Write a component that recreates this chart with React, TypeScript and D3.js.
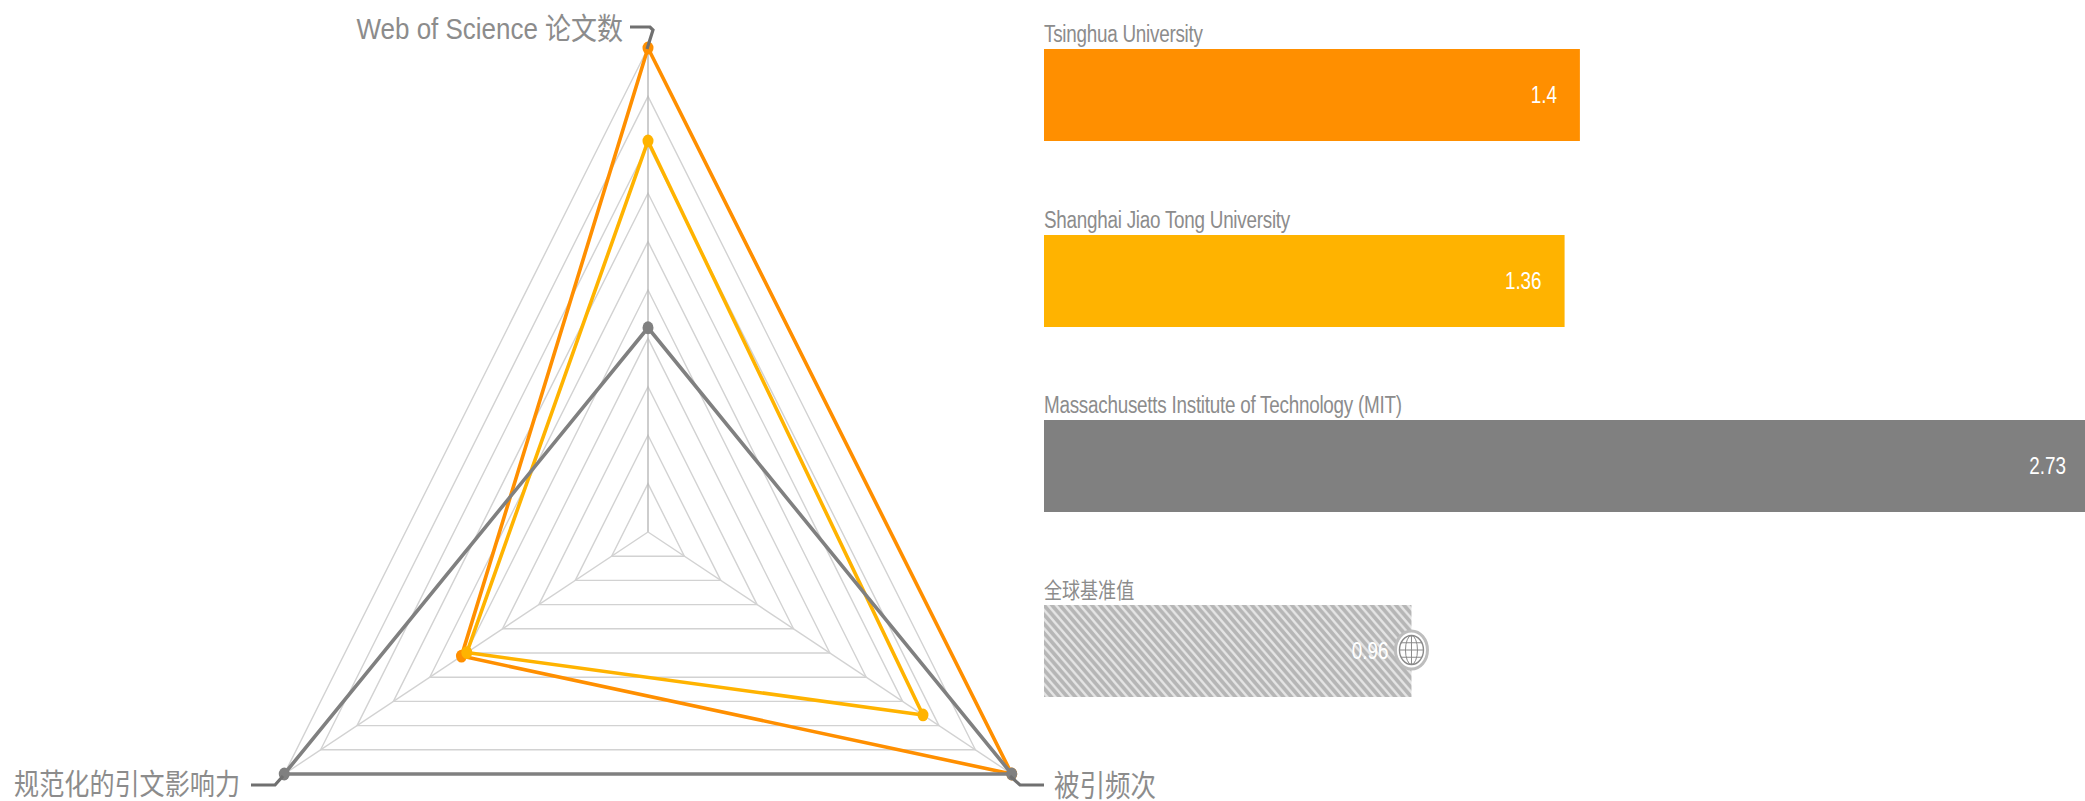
import React from "react";
import * as d3 from "d3";

const WIDTH = 2085;
const HEIGHT = 801;

// Radar axes, clockwise from the top
const axisLabels = ["Web of Science 论文数", "被引频次", "规范化的引文影响力"];
const ringLevels = [0.1, 0.2, 0.3, 0.4, 0.5, 0.6, 0.7, 0.8, 0.9, 1];

const institutions = ["Tsinghua University", "Shanghai Jiao Tong University", "Massachusetts Institute of Technology (MIT)"];
const baselineLabel = "全球基准值";
const colors = ["#ff8f00", "#ffb300", "#808080"];

// Share of the largest institution on the paper and citation axes
const paperShare = [1, 0.808, 0.422];
const citationShare = [1, 0.756, 1];
// Category normalized citation impact
const impactValues = [1.4, 1.36, 2.73];
const baselineImpact = 0.96;

const rScale = d3.scaleLinear().domain([0, 1]).range([0, 1]);
const impactShare = d3.scaleLinear().domain([0, d3.max(impactValues) as number]).range([0, 1]);
const barX = d3.scaleLinear().domain([0, d3.max(impactValues) as number]).range([1044, 2089]);

const barTops = [49, 235, 420, 605];
const BAR_H = 92;

// The radar is taller than an equilateral triangle: independent radii on each direction
const CX = 648;
const CY = 532;
const RX = 420;
const RY = 484;
const angles = [0, (2 * Math.PI) / 3, (4 * Math.PI) / 3];

function polar(axis: number, share: number): [number, number] {
  const r = rScale(share);
  return [CX + Math.sin(angles[axis]) * RX * r, CY - Math.cos(angles[axis]) * RY * r];
}

const closedLine = d3.line().curve(d3.curveLinearClosed);
const plainLine = d3.line();

const LABEL_FONT = "'Liberation Sans', 'Noto Sans CJK SC', sans-serif";

// Condensed text: glyphs are drawn narrow and tall
function Label(props: { x: number; y: number; size: number; fill: string; anchor?: string; text: string; sx?: number; spacing?: number }) {
  const { x, y, size, fill, anchor, text, sx, spacing } = props;
  return (
    <text
      transform={`translate(${x},${y}) scale(${sx ?? 0.866},1)`}
      fontFamily={LABEL_FONT}
      fontSize={size}
      fill={fill}
      textAnchor={anchor ?? "start"}
      letterSpacing={spacing ?? 0}
    >
      {text}
    </text>
  );
}

function GlobeIcon({ x, y }: { x: number; y: number }) {
  const rx = 12;
  const ry = 14.5;
  return (
    <g transform={`translate(${x},${y})`} fill="none" stroke="#8a8a8a" strokeWidth={1}>
      <ellipse rx={16} ry={19} fill="#ffffff" stroke="#bdbdbd" strokeWidth={3} />
      <ellipse rx={rx} ry={ry} strokeWidth={1.4} />
      <ellipse rx={rx * 0.5} ry={ry} />
      <line x1={0} x2={0} y1={-ry} y2={ry} />
      <line x1={-rx} x2={rx} y1={0} y2={0} />
      <line x1={-rx * 0.87} x2={rx * 0.87} y1={-ry * 0.5} y2={-ry * 0.5} />
      <line x1={-rx * 0.87} x2={rx * 0.87} y1={ry * 0.5} y2={ry * 0.5} />
    </g>
  );
}

export default function App() {
  const series = institutions.map((name, i) => ({
    name,
    color: colors[i],
    points: [
      polar(0, paperShare[i]),
      polar(1, citationShare[i]),
      polar(2, impactShare(impactValues[i])),
    ] as [number, number][],
  }));

  return (
    <svg
      width={WIDTH}
      height={HEIGHT}
      viewBox={`0 0 ${WIDTH} ${HEIGHT}`}
      style={{ position: "absolute", left: 0, top: 0, display: "block" }}
    >
      <defs>
        <pattern id="hatch" width={8} height={8} patternUnits="userSpaceOnUse" patternTransform="scale(1,1.155)">
          <rect width={8} height={8} fill="#e4e4e4" />
          <path d="M-2,-2 L10,10 M-2,6 L2,10 M6,-2 L10,2" stroke="#b6b6b6" strokeWidth={3.4} />
        </pattern>
      </defs>

      {/* grid rings and spokes */}
      <g fill="none" stroke="#d2d2d2" strokeWidth={1.4}>
        {ringLevels.map((lv) => (
          <path key={lv} d={closedLine([polar(0, lv), polar(1, lv), polar(2, lv)]) as string} />
        ))}
        {angles.map((_, i) => (
          <path key={i} d={plainLine([[CX, CY], polar(i, 1)]) as string} stroke={i === 0 ? "#b8b8b8" : "#d2d2d2"} />
        ))}
      </g>

      {/* institution polygons with a marker on each axis */}
      {series.map((s) => (
        <g key={s.name}>
          <path d={closedLine(s.points) as string} fill="none" stroke={s.color} strokeWidth={3.6} strokeLinejoin="round" />
          {s.points.map((p, k) => (
            <ellipse key={k} cx={p[0]} cy={p[1]} rx={5.5} ry={6.4} fill={s.color} />
          ))}
        </g>
      ))}

      {/* axis callouts */}
      <g fill="none" stroke="#707070" strokeWidth={3.2}>
        <path d={plainLine([[630, 27], [650, 27], [653, 30], [647, 49]]) as string} />
        <path d={plainLine([[251, 785], [275, 785], [283, 776]]) as string} />
        <path d={plainLine([[1010, 776], [1020, 785], [1044, 785]]) as string} />
      </g>
      <Label x={623} y={39} size={30} fill="#8c8c8c" anchor="end" text={axisLabels[0]} />
      <Label x={1054} y={796} size={29.5} fill="#8c8c8c" text={axisLabels[1]} />
      <Label x={240} y={795} size={29} fill="#8c8c8c" anchor="end" text={axisLabels[2]} />

      {/* impact bars */}
      {institutions.map((name, i) => (
        <g key={name}>
          <Label x={1044} y={barTops[i] - 7} size={23} sx={0.82} spacing={-0.3} fill="#8c8c8c" text={name} />
          <rect x={barX(0)} y={barTops[i]} width={barX(impactValues[i]) - barX(0)} height={BAR_H} fill={colors[i]} />
          <Label x={barX(impactValues[i]) - 23} y={barTops[i] + 54} size={23} sx={0.82} fill="#ffffff" anchor="end" text={String(impactValues[i])} />
        </g>
      ))}

      {/* world baseline bar */}
      <Label x={1044} y={barTops[3] - 7} size={22} sx={0.82} fill="#8c8c8c" text={baselineLabel} />
      <rect x={barX(0)} y={barTops[3]} width={barX(baselineImpact) - barX(0)} height={BAR_H} fill="url(#hatch)" />
      <Label x={barX(baselineImpact) - 23} y={barTops[3] + 54} size={23} sx={0.82} fill="#ffffff" anchor="end" text={String(baselineImpact)} />
      <GlobeIcon x={barX(baselineImpact)} y={barTops[3] + 45} />
    </svg>
  );
}
